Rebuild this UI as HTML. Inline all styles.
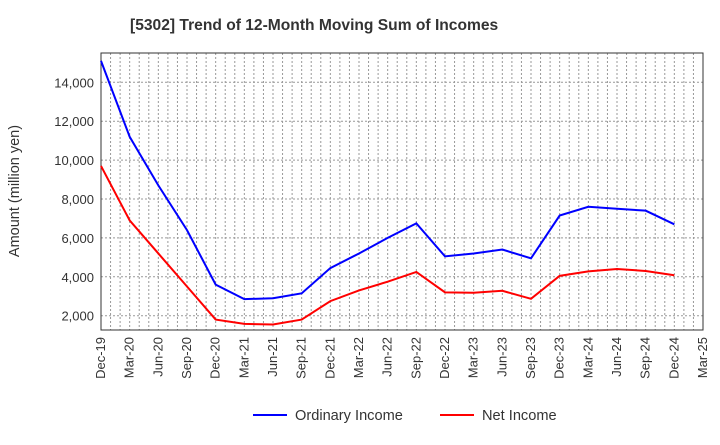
<!DOCTYPE html>
<html><head><meta charset="utf-8"><style>
body{margin:0;background:#fff;font-family:"Liberation Sans",sans-serif;}
svg text{font-family:"Liberation Sans",sans-serif;}
</style></head><body>
<svg width="720" height="440" id="chart">
<text x="130" y="30" font-size="15.6" font-weight="bold" fill="#333">[5302]  Trend of 12-Month Moving Sum of Incomes</text>
<text transform="translate(19,191) rotate(-90)" text-anchor="middle" font-size="14.5" fill="#333">Amount (million yen)</text>
<g id="grid"></g><g id="axes"></g><g id="series"></g>
<g>
<line x1="253" y1="415" x2="287" y2="415" stroke="#00f" stroke-width="2"/>
<text x="295" y="420" font-size="14.6" fill="#333">Ordinary Income</text>
<line x1="440" y1="415" x2="474" y2="415" stroke="#f00" stroke-width="2"/>
<text x="482" y="420" font-size="14.6" fill="#333">Net Income</text>
</g>
</svg>
<script>
const categories=["Dec-19","Mar-20","Jun-20","Sep-20","Dec-20","Mar-21","Jun-21","Sep-21","Dec-21","Mar-22","Jun-22","Sep-22","Dec-22","Mar-23","Jun-23","Sep-23","Dec-23","Mar-24","Jun-24","Sep-24","Dec-24","Mar-25"];
const ordinaryIncome=[15100,11200,8700,6400,3600,2850,2900,3150,4450,5200,6000,6750,5050,5200,5400,4950,7150,7600,7500,7400,6700];
const netIncome=[9700,6900,5200,3500,1800,1580,1550,1800,2750,3300,3750,4250,3200,3180,3280,2870,4050,4280,4400,4300,4080];
const yTicks=[2000,4000,6000,8000,10000,12000,14000];
const L=101,R=703,T=53,B=330;
const NS="http://www.w3.org/2000/svg";
function xq(i){return L+i*(R-L)/(categories.length-1);}
function y(v){return 315.7-(v-2000)*0.01945;}
function mk(tag,attrs,parent){const e=document.createElementNS(NS,tag);for(const k in attrs)e.setAttribute(k,attrs[k]);document.getElementById(parent).appendChild(e);return e;}
for(let m=1;m<(categories.length-1)*3;m++){const x=L+m*(R-L)/((categories.length-1)*3);
const g=mk("line",{x1:x,x2:x,y1:T,y2:B,stroke:"#999","stroke-dasharray":"2,2","stroke-width":1},"grid");

}
yTicks.forEach(v=>{const g=mk("line",{x1:L,x2:R,y1:y(v),y2:y(v),stroke:"#999","stroke-dasharray":"2,2","stroke-width":1},"grid");


const t=mk("text",{x:L-7,y:y(v)+5,"text-anchor":"end","font-size":"13",fill:"#333"},"axes");t.textContent=v.toLocaleString("en-US");

});
categories.forEach((c,i)=>{const t=mk("text",{transform:`translate(${xq(i)+4},${B+7}) rotate(-90)`,"text-anchor":"end","font-size":"13",fill:"#333"},"axes");t.textContent=c;

});
const fr=mk("rect",{x:L,y:T,width:R-L,height:B-T,fill:"none",stroke:"#333","stroke-width":1},"axes");


[[ordinaryIncome,"#00f","ordinary-income-line"],[netIncome,"#f00","net-income-line"]].forEach(([d,c,n])=>{
const p=mk("polyline",{points:d.map((v,i)=>xq(i)+","+y(v)).join(" "),fill:"none",stroke:c,"stroke-width":2},"series");

});
</script>
</body></html>
